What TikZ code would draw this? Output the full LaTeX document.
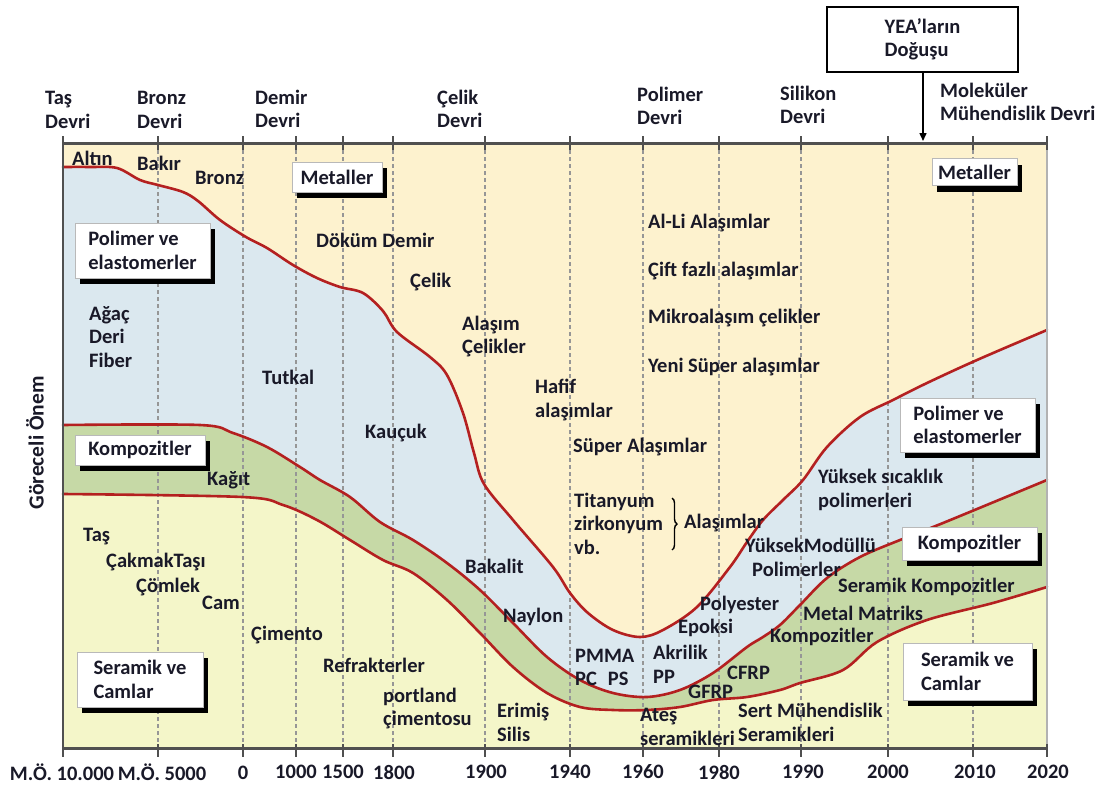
\documentclass[tikz,border=0pt]{standalone}
\usepackage{fontspec}
\setmainfont{Carlito}
\usetikzlibrary{shadows,arrows.meta,decorations.pathreplacing}

\definecolor{metalfill}{RGB}{253,242,206}
\definecolor{polyfill}{RGB}{219,232,239}
\definecolor{compfill}{RGB}{198,217,166}
\definecolor{ceramfill}{RGB}{244,246,201}
\definecolor{boundred}{RGB}{180,32,32}
\definecolor{axisgray}{RGB}{80,80,80}
\definecolor{gridgray}{RGB}{150,150,150}
\definecolor{txt}{RGB}{25,25,40}

\newcommand\chartfont{\bfseries\fontsize{20.5}{23.5}\selectfont}

% boundary curves between the material families (x in years scale, y downwards)
\def\metalpts{(63,167) (90,167) (117,168) (140,180) (158,185) (183,192) (198,201) (220,220) (246,237) (267,248) (293,265) (317,278) (340,287) (363,293) (383,311) (397,332) (430,357) (447,375) (463,413) (474,453) (484,484) (513,520) (553,567) (570,593) (588,613) (613,630) (640,637) (663,630) (697,607) (730,567) (747,542) (763,520) (783,500) (803,480) (827,447) (860,417) (893,400) (927,383) (977,360) (1047,330)}
\def\polypts{(63,425) (200,425) (233,433) (267,447) (300,467) (320,480) (350,497) (380,522) (413,540) (447,563) (480,590) (513,623) (547,657) (580,680) (613,693) (647,697) (680,690) (713,673) (747,647) (763,637) (780,625) (800,605) (827,578) (860,557) (900,540) (943,523) (1047,480)}
\def\ceramicpts{(63,494) (242,497) (283,505) (317,520) (350,540) (383,560) (413,573) (447,600) (480,633) (513,667) (547,693) (580,707) (613,710) (647,710) (680,707) (713,700) (747,697) (780,690) (800,683) (843,670) (877,642) (927,620) (993,603) (1047,587)}

\newcommand\regionfill[2]{%
  \edef\regiontmp{\noexpand\fill[#1] (63,748) -- plot[smooth,tension=0.55] coordinates {#2} -- (1047,748) -- cycle;}%
  \regiontmp}
\newcommand\drawboundary[1]{%
  \edef\regiontmp{\noexpand\draw[boundline] plot[smooth,tension=0.55] coordinates {#1};}%
  \regiontmp}

\begin{document}
\begin{tikzpicture}[x=1pt,y=-1pt,
  every node/.style={font=\chartfont, text=txt, inner sep=0pt},
  lab/.style={anchor=west, align=left},
  tick/.style={anchor=center},
  boundline/.style={draw=boundred, line width=2.6pt, line join=round, line cap=round},
  gridline/.style={draw=gridgray, line width=1.3pt, dash pattern=on 3.5pt off 3.5pt},
  axisline/.style={draw=axisgray, line width=3pt},
  catbox/.style={draw=gray!55, line width=0.7pt, fill=white, align=left,
    drop shadow={shadow xshift=5pt, shadow yshift=-6pt, fill=black, opacity=1}},
  ]
\useasboundingbox (0,0) rectangle (1109,787);

% background bands
\fill[metalfill] (63,143) rectangle (1047,748);
\regionfill{polyfill}{\metalpts}
\regionfill{compfill}{\polypts}
\regionfill{ceramfill}{\ceramicpts}

% dashed period lines
\foreach \x in {158,243,296,343,393,485,570,643,719,801,888,973}
  \draw[gridline] (\x,150) -- (\x,746);

% boundaries
\drawboundary{\metalpts}
\drawboundary{\polypts}
\drawboundary{\ceramicpts}

% axes and ticks
\draw[draw=gray!60, line width=1.2pt] (1047,143) -- (1047,748);
\draw[draw=axisgray, line width=2.2pt] (63,143) -- (63,748);
\draw[axisline] (63,143) -- (1047,143);
\draw[axisline] (63,748) -- (1047,748);
\foreach \x in {63,158,243,296,343,393,485,570,643,719,801,888,973,1047} {
  \draw[draw=axisgray, line width=1.8pt] (\x,136) -- (\x,150);
  \draw[draw=axisgray, line width=1.8pt] (\x,744) -- (\x,757);
}

% time axis labels
\node[tick] (t1) at (62,772) {M.Ö. 10.000};
\node[tick] (t2) at (162,772) {M.Ö. 5000};
\node[tick] (t3) at (243,773) {0};
\node[tick] (t4) at (296,772) {1000};
\node[tick] (t5) at (343,772) {1500};
\node[tick] (t6) at (394,772) {1800};
\node[tick] (t7) at (486,772) {1900};
\node[tick] (t8) at (570,772) {1940};
\node[tick] (t9) at (643,772) {1960};
\node[tick] (t10) at (719,772) {1980};
\node[tick] (t11) at (803,772) {1990};
\node[tick] (t12) at (888,772) {2000};
\node[tick] (t13) at (975,772) {2010};
\node[tick] (t14) at (1048,772) {2020};

% vertical axis title
\node[rotate=90, font=\bfseries\fontsize{21.5}{24}\selectfont] (ylab) at (35,443) {Göreceli Önem};

% era names
\node[lab] (eraTas) at (45,110) {Taş\\Devri};
\node[lab] (eraBronz) at (137,110) {Bronz\\Devri};
\node[lab] (eraDemir) at (255,109) {Demir\\Devri};
\node[lab] (eraCelik) at (437,109) {Çelik\\Devri};
\node[lab] (eraPolimer) at (637,106) {Polimer\\Devri};
\node[lab] (eraSilikon) at (780,105) {Silikon\\Devri};
\node[lab] (eraMolekul) at (940,102) {Moleküler\\Mühendislik Devri};

% rise of advanced materials
\node[draw=black, line width=2pt, fill=white, minimum width=191pt, minimum height=65pt, align=left] (yea) at (922.5,39.5) {YEA'ların\\Doğuşu};
\coordinate (yeatarget) at (923,141);
\draw[line width=1.5pt, -{Triangle[length=8pt,width=7pt]}] (yea.south -| yeatarget) -- (yeatarget);

% category boxes
\node[catbox, minimum width=90pt, minimum height=30pt] (boxMetalL) at (337,177) {Metaller};
\node[catbox, minimum width=85pt, minimum height=27pt] (boxMetalR) at (974.5,172) {Metaller};
\node[catbox, minimum width=135pt, minimum height=55pt] (boxPolyL) at (142.5,250.5) {Polimer ve\\elastomerler};
\node[catbox, minimum width=130pt, minimum height=30pt] (boxCompL) at (140,450) {Kompozitler};
\node[catbox, minimum width=126pt, minimum height=55pt] (boxCeramL) at (140,679.5) {Seramik ve\\Camlar};
\node[catbox, minimum width=135pt, minimum height=54pt] (boxPolyR) at (967.5,425) {Polimer ve\\elastomerler};
\node[catbox, minimum width=135pt, minimum height=33pt] (boxCompR) at (969.5,543.5) {Kompozitler};
\node[catbox, minimum width=129pt, minimum height=57pt] (boxCeramR) at (967.5,671.5) {Seramik ve\\Camlar};

% metals
\node[lab] (mAltin) at (72,158) {Altın};
\node[lab] (mBakir) at (137,163) {Bakır};
\node[lab] (mBronz) at (195,178) {Bronz};
\node[lab] (mDokum) at (316,240) {Döküm Demir};
\node[lab] (mCelik) at (410,282) {Çelik};
\node[lab] (mAlasimCelik) at (462,336.5) {Alaşım\\Çelikler};
\node[lab] (mHafif) at (535,400) {Hafif\\alaşımlar};
\node[lab] (mSuper) at (573,447) {Süper Alaşımlar};
\node[lab] (mAlLi) at (648,223) {Al-Li Alaşımlar};
\node[lab] (mCift) at (648,271) {Çift fazlı alaşımlar};
\node[lab] (mMikro) at (648,318) {Mikroalaşım çelikler};
\node[lab] (mYeni) at (648,367) {Yeni Süper alaşımlar};
\node[lab] (mTitan) at (574,523.5) {Titanyum\\zirkonyum\\vb.};
\draw[line width=1.4pt, decorate, decoration={brace, amplitude=5pt}] (672,498) -- (672,550);
\node[lab] (mAlasim) at (684,523) {Alaşımlar};

% polymers
\node[lab] (pAgac) at (89,337) {Ağaç\\Deri\\Fiber};
\node[lab] (pTutkal) at (262,377) {Tutkal};
\node[lab] (pKaucuk) at (365,433) {Kauçuk};
\node[lab] (pBakalit) at (465,566) {Bakalit};
\node[lab] (pNaylon) at (503,617) {Naylon};
\node[lab] (pPMMA) at (575,667.5) {PMMA\\PC\hspace{11pt}PS};
\node[lab] (pAkrilik) at (653,664.5) {Akrilik\\PP};
\node[lab] (pPolyester) at (700,605) {Polyester};
\node[lab] (pEpoksi) at (678,628) {Epoksi};
\node[lab] (pYuksekSic) at (818,490) {Yüksek sıcaklık\\polimerleri};
\node[lab] (pYuksekMod) at (745,557.5) {YüksekModüllü\\\hspace{7pt}Polimerler};

% composites
\node[lab] (cKagit) at (207,480) {Kağıt};
\node[lab] (cGFRP) at (688,692) {GFRP};
\node[lab] (cCFRP) at (727,673) {CFRP};
\node[lab] (cSeramKomp) at (838,587) {Seramik Kompozitler};
\node[lab] (cMetalMat) at (803,613) {Metal Matriks};
\node[lab] (cKomp) at (770,637) {Kompozitler};

% ceramics and glasses
\node[lab] (sTas) at (83,537) {Taş};
\node[lab] (sCakmak) at (106,562) {ÇakmakTaşı};
\node[lab] (sComlek) at (136,587) {Çömlek};
\node[lab] (sCam) at (202,603) {Cam};
\node[lab] (sCimento) at (251,635) {Çimento};
\node[lab] (sRefrakter) at (323,665) {Refrakterler};
\node[lab] (sPortland) at (383,708.5) {portland\\çimentosu};
\node[lab] (sErimis) at (497,722.5) {Erimiş\\Silis};
\node[lab] (sAtes) at (640,727) {Ateş\\seramikleri};
\node[lab] (sSert) at (738,722.5) {Sert Mühendislik\\Seramikleri};
\end{tikzpicture}
\end{document}
